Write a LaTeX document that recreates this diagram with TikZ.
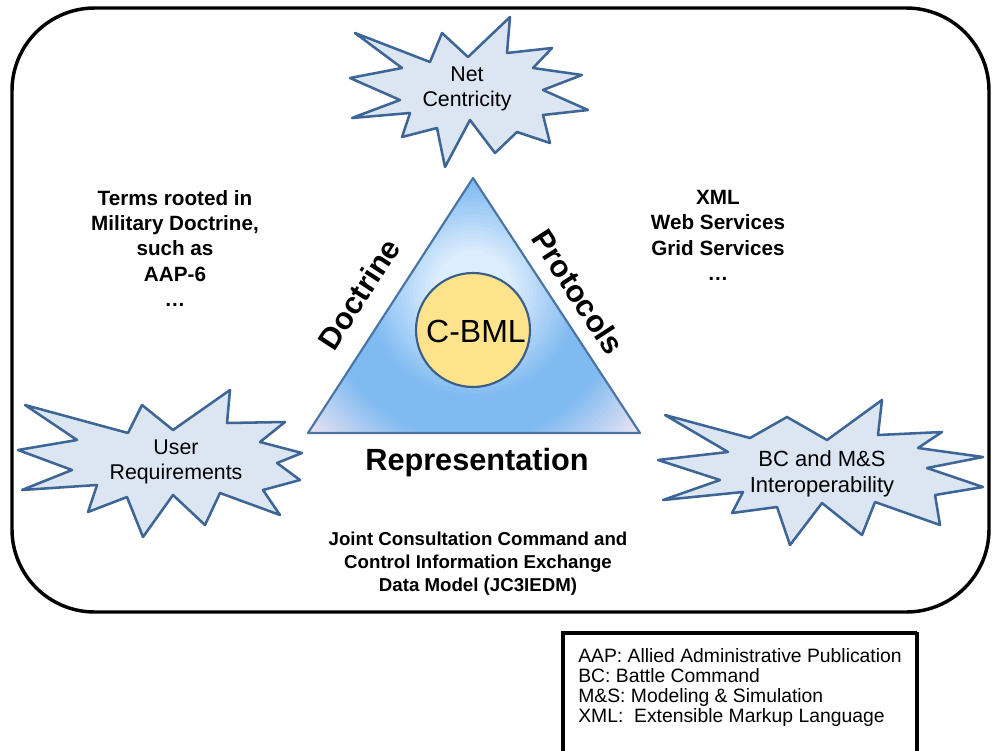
\documentclass[tikz,border=0pt]{standalone}
\usepackage{fontspec}
\setmainfont{Liberation Sans}
\definecolor{tlight}{HTML}{DCEDFD}
\definecolor{tblue}{HTML}{7FBAF1}
\definecolor{tpale}{HTML}{EDE5F3}
\definecolor{triline}{HTML}{4A74A3}
\definecolor{cfill}{HTML}{FCE38C}
\definecolor{cline}{HTML}{3A5E88}
\definecolor{starfill}{HTML}{DCE6F2}
\definecolor{starline}{HTML}{3D6596}
\begin{document}
\begin{tikzpicture}[x=0.75pt,y=-0.75pt,
  burst/.style={draw=starline, fill=starfill, line width=1.9pt, line join=round},
  blbl/.style={align=center, inner sep=0pt, font=\fontsize{16}{18.75}\selectfont},
  boldlbl/.style={align=center, inner sep=0pt, font=\bfseries\fontsize{15.5}{19}\selectfont},
  sidelbl/.style={inner sep=0pt, font=\bfseries\fontsize{23}{26}\selectfont}]
\useasboundingbox (0,0) rectangle (992,750);

% outer frame
\draw[line width=2.6pt, rounded corners=62pt] (12,8) rectangle (989,612);

% triangle with gradient
\begin{scope}
  \clip (308,433) -- (473,178) -- (640,433) -- cycle;
  \foreach \r in {240,236,...,0} {
    \pgfmathtruncatemacro\pa{min(100,max(0,(\r-150)/70*100))}
    \pgfmathtruncatemacro\pb{min(100,max(0,(110-\r)/70*100))}
    \pgfmathsetmacro\rr{\r*0.75}
    \colorlet{tmpc}{tpale!\pa!tblue}
    \fill[tlight!\pb!tmpc] (473,290) circle (\rr pt);
  }
\end{scope}
\draw[triline, line width=1.6pt, line join=round] (308,433) -- (473,178) -- (640,433) -- cycle;

% C-BML circle
\draw[cline, fill=cfill, line width=1.6pt] (473,330) circle (42.75pt);
\node[inner sep=0pt, anchor=base, font=\fontsize{24}{28}\selectfont] (cbml) at (476,342) {C-BML};

% side labels
\node[sidelbl, rotate=57] (doctrine) at (359,294) {Doctrine};
\node[sidelbl, rotate=-57] (protocols) at (578,292) {Protocols};
\node[sidelbl, anchor=base] (repr) at (477,470) {Representation};

% Net Centricity burst
\draw[burst] (355,33) -- (430,62) -- (442,33) -- (468,57) -- (510,17) -- (507,53)
  -- (552,48) -- (533,68) -- (582,75) -- (543,90) -- (588,110) -- (543,115)
  -- (550,143) -- (517,132) -- (495,153) -- (470,120) -- (445,167) -- (437,128)
  -- (402,137) -- (410,113) -- (352,118) -- (400,100) -- (350,78) -- (402,68) -- cycle;
\node[blbl, anchor=north] (net) at (467,67) {Net\\Centricity};

% User Requirements burst
\draw[burst] (25,405) -- (128,433) -- (142,405) -- (173,430) -- (230,390) -- (227,423)
  -- (285,422) -- (260,442) -- (302,453) -- (277,463) -- (300,480) -- (263,490)
  -- (280,515) -- (220,493) -- (205,525) -- (173,495) -- (143,537) -- (127,497)
  -- (88,512) -- (97,485) -- (22,490) -- (72,470) -- (18,450) -- (77,440) -- cycle;
\node[blbl, anchor=north] (user) at (176,440) {User\\Requirements};

% BC and M&S burst
\draw[burst] (665,415) -- (750,438) -- (787,417) -- (827,440) -- (882,400) -- (878,435)
  -- (942,432) -- (918,448) -- (983,457) -- (927,468) -- (983,487) -- (935,495)
  -- (940,525) -- (875,502) -- (862,535) -- (822,503) -- (790,545) -- (777,507)
  -- (732,513) -- (743,492) -- (663,500) -- (720,480) -- (658,460) -- (728,452) -- cycle;
\node[blbl, anchor=north, font=\fontsize{16.5}{19.5}\selectfont] (bcms) at (822,450) {BC and M\&S\\Interoperability};

% text blocks
\node[boldlbl, anchor=north] (terms) at (175,190) {Terms rooted in\\Military Doctrine,\\such as\\AAP-6\\\ldots};
\node[boldlbl, anchor=north] (xml) at (718,190) {XML\\Web Services\\Grid Services\\\ldots};
\node[align=center, inner sep=0pt, anchor=north, font=\bfseries\fontsize{14}{17}\selectfont] (jc3) at (478,532)
  {Joint Consultation Command and\\Control Information Exchange\\Data Model (JC3IEDM)};

% legend
\draw[line width=2.4pt] (563,752) -- (563,633) -- (917,633);
\draw[line width=3.6pt] (917,632) -- (917,752);
\node[align=left, inner sep=0pt, anchor=north west, font=\fontsize{14.5}{15}\selectfont] (legend) at (578,648)
  {AAP: Allied Administrative Publication\\BC: Battle Command\\M\&S: Modeling \& Simulation\\XML:\ \ Extensible Markup Language};
\end{tikzpicture}
\end{document}
